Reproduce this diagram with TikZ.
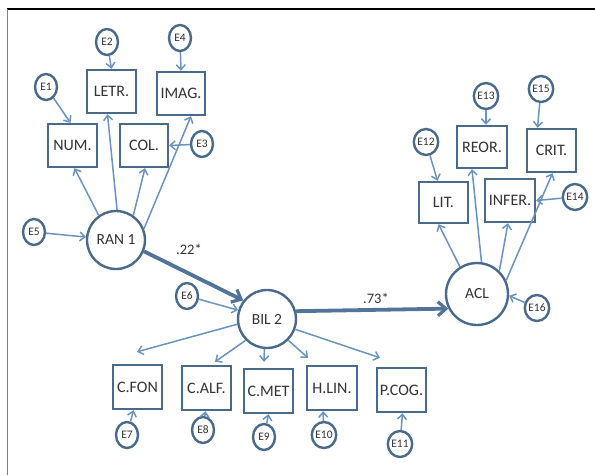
\documentclass[tikz,border=0pt]{standalone}
\usepackage{fontspec}
\setmainfont{Carlito}
\usetikzlibrary{arrows.meta,shapes.geometric}
\definecolor{boxc}{HTML}{4A6A8C}
\definecolor{arrc}{HTML}{6A93BF}
\definecolor{txtc}{HTML}{333333}
\tikzset{
  obs/.style={draw=boxc, line width=2.4pt, minimum width=49pt, minimum height=43pt, inner sep=0pt, text=txtc, font=\fontsize{16}{16}\selectfont},
  lat/.style={circle, draw=boxc, line width=2.4pt, minimum size=58pt, inner sep=0pt, text=txtc, font=\fontsize{15.5}{15.5}\selectfont},
  err/.style={ellipse, draw=boxc, line width=2.4pt, minimum width=22pt, minimum height=26pt, inner sep=0pt, text=txtc, font=\fontsize{11.5}{11.5}\selectfont},
  arr/.style={draw=arrc, line width=1.5pt, -{Straight Barb[length=5pt,width=9pt,line width=1.5pt]}},
  big/.style={draw=boxc!75!arrc, line width=3.8pt, -{Straight Barb[length=8pt,width=14pt,line width=3.2pt]}},
  coef/.style={text=txtc, font=\fontsize{14.5}{14.5}\selectfont, inner sep=0pt}
}
\begin{document}
\begin{tikzpicture}[x=1pt,y=-1pt]
\useasboundingbox (0,0) rectangle (595,475);
\fill[white] (0,0) rectangle (595,475);
\coordinate (tl) at (7,9);
\coordinate (tr) at (595,9);
\coordinate (bl) at (7,475);
\draw[black, line width=1.3pt] (tl) -- (tr);
\draw[gray, line width=1pt] (tl) -- (bl);

% observed boxes
\node[obs] (letr) at (111.5,91.5) {LETR.};
\node[obs, minimum width=48pt] (imag) at (181,93.5) {IMAG.};
\node[obs] (num) at (72.5,145.5) {NUM.};
\node[obs, minimum width=48pt] (col) at (144,145.5) {COL.};
\node[obs, minimum height=44pt] (cfon) at (137.5,387) {C.FON};
\node[obs, minimum height=44pt] (calf) at (206.5,388) {C.ALF.};
\node[obs, minimum height=44pt] (cmet) at (268.5,391) {C.MET};
\node[obs, minimum width=50pt, minimum height=44pt] (hlin) at (332,388) {H.LIN.};
\node[obs, minimum height=44pt] (pcog) at (401.5,390) {P.COG.};
\node[obs, minimum width=50pt, minimum height=42pt] (reor) at (482,147) {REOR.};
\node[obs, minimum height=43pt] (crit) at (551.5,150.5) {CRIT.};
\node[obs, minimum height=41pt] (lit) at (443.5,202.5) {LIT.};
\node[obs, minimum width=50pt] (infer) at (510,200.5) {INFER.};

% latent circles
\node[lat] (ran1) at (116,240) {RAN 1};
\node[lat] (bil2) at (267,319) {BIL 2};
\node[lat, minimum size=62pt] (acl) at (477,294) {ACL};

% errors
\node[err] (e1) at (46,87) {E1};
\node[err] (e2) at (107,42) {E2};
\node[err] (e4) at (180,38) {E4};
\node[err] (e3) at (202,144) {E3};
\node[err] (e5) at (34,232) {E5};
\node[err] (e6) at (187,296) {E6};
\node[err] (e7) at (127,435) {E7};
\node[err] (e8) at (203,430) {E8};
\node[err] (e9) at (264,437) {E9};
\node[err] (e10) at (324,435) {E10};
\node[err] (e11) at (400,444) {E11};
\node[err] (e12) at (426,142) {E12};
\node[err] (e13) at (486,96) {E13};
\node[err] (e15) at (541,89) {E15};
\node[err] (e14) at (575,197) {E14};
\node[err] (e16) at (537,308) {E16};

% RAN 1 indicators
\draw[arr] (ran1.125) -- ([xshift=2pt]num.south);
\draw[arr] (ran1.88) -- ([xshift=-4pt]letr.south);
\draw[arr] (ran1.55) -- ([xshift=1pt]col.south);
\draw[arr] (ran1.22) -- ([xshift=10pt]imag.south);
\draw[arr] (e1) -- ([xshift=-2pt]num.north);
\draw[arr] (e2) -- (letr.north);
\draw[arr] (e4) -- (imag.north);
\draw[arr] (e3) -- (col.east);
\draw[arr] (e5) -- (ran1);

% structural paths
\draw[big] (ran1.-22) -- (bil2.142);
\node[coef] (c22) at (189,249) {.22*};
\draw[arr] (e6.-15) -- (bil2.163);
\draw[big] (bil2.15) -- (acl.207);
\node[coef] (c73) at (376,298) {.73*};

% BIL 2 indicators
\draw[arr] (bil2.190) -- ([xshift=-0.5pt,yshift=12pt]cfon.north);
\draw[arr] (bil2.225) -- ([xshift=8.5pt,yshift=3pt]calf.north);
\draw[arr] (bil2.265) -- ([xshift=-4.5pt,yshift=6pt]cmet.north);
\draw[arr] (bil2.315) -- ([xshift=-24pt,yshift=7pt]hlin.north);
\draw[arr] (bil2.340) -- ([xshift=-21.5pt,yshift=9pt]pcog.north);
\draw[arr] (e7) -- ([xshift=-4pt]cfon.south);
\draw[arr] (e8) -- ([xshift=-1pt]calf.south);
\draw[arr] (e9) -- (cmet.south);
\draw[arr] (e10) -- ([xshift=-9pt]hlin.south);
\draw[arr] (e11) -- ([xshift=1pt]pcog.south);

% ACL indicators
\draw[arr] (acl.122) -- ([xshift=-5pt]lit.south);
\draw[arr] (acl.82) -- ([xshift=-10pt]reor.south);
\draw[arr] (acl.46) -- ([xshift=-2pt]infer.south);
\draw[arr] (acl.25) -- ([xshift=1pt]crit.south);
\draw[arr] (e12) -- ([xshift=-6pt]lit.north);
\draw[arr] (e13) -- ([xshift=4pt]reor.north);
\draw[arr] (e15) -- ([xshift=-14pt]crit.north);
\draw[arr] (e14) -- (infer.east);
\draw[arr] (e16) -- (acl.-3);
\end{tikzpicture}
\end{document}
